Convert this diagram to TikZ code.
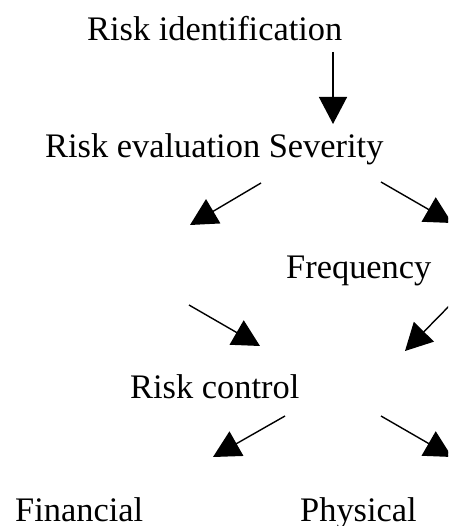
\documentclass[tikz,border=0pt]{standalone}
\usepackage{fontspec}
\setmainfont{Liberation Serif}
\usetikzlibrary{arrows.meta}
\begin{document}
\begin{tikzpicture}[x=1pt,y=-1pt,
  lbl/.style={anchor=base west, inner sep=0pt, font=\fontsize{34.4}{40}\selectfont},
  arr/.style={-{Triangle[length=27pt,width=28pt]}, line width=1.4pt}]
\useasboundingbox (0,0) rectangle (448,526);
\clip (0,0) rectangle (448,526);
\node[lbl] (ident) at (87,41) {Risk identification};
\node[lbl] (eval) at (45,158) {Risk evaluation Severity};
\node[lbl] (freq) at (286,278) {Frequency};
\node[lbl] (ctrl) at (130,398) {Risk control};
\node[lbl] (fin) at (15,521) {Financial};
\node[lbl] (phys) at (300,521) {Physical};
\coordinate (a1s) at (333,52);  \coordinate (a1e) at (333,124);
\coordinate (a2s) at (261,183); \coordinate (a2e) at (190,225);
\coordinate (a3s) at (381,182); \coordinate (a3e) at (452,223);
\coordinate (a4s) at (189,305); \coordinate (a4e) at (260,346);
\coordinate (a5s) at (456,299); \coordinate (a5e) at (405,351);
\coordinate (a6s) at (285,416); \coordinate (a6e) at (213,457);
\coordinate (a7s) at (381,416); \coordinate (a7e) at (452,457);
\draw[arr] (a1s) -- (a1e);
\draw[arr] (a2s) -- (a2e);
\draw[arr] (a3s) -- (a3e);
\draw[arr] (a4s) -- (a4e);
\draw[arr] (a5s) -- (a5e);
\draw[arr] (a6s) -- (a6e);
\draw[arr] (a7s) -- (a7e);
\end{tikzpicture}
\end{document}
